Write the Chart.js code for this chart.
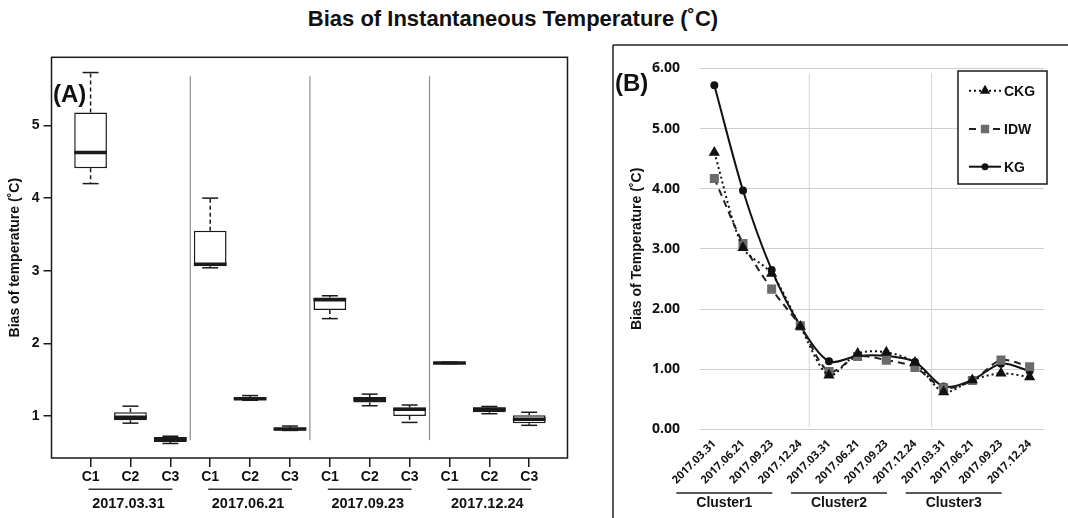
<!DOCTYPE html>
<html lang="en">
  <head>
    <meta charset="utf-8" />
    <title>Bias of Instantaneous Temperature</title>
    <style>
      * {
        margin: 0;
        padding: 0;
      }
      body {
        width: 1068px;
        height: 518px;
        background: #fff;
        position: relative;
        overflow: hidden;
        font-family: "Liberation Sans", Arial, sans-serif;
      }
      .mainTitle {
        position: absolute;
        left: 0;
        top: 6px;
        width: 1026px;
        text-align: center;
        font-weight: bold;
        font-size: 22px;
        color: #111;
      }
      .boxA {
        position: absolute;
        left: 0;
        top: 40px;
        width: 600px;
        height: 478px;
      }
      .boxB {
        position: absolute;
        left: 600px;
        top: 40px;
        width: 468px;
        height: 478px;
      }
    </style>
  </head>
  <body>
    <div class="mainTitle">Bias of Instantaneous Temperature (˚C)</div>
    <div class="boxA"><canvas id="chartA"></canvas></div>
    <div class="boxB"><canvas id="chartB"></canvas></div>

    <script src="https://cdn.jsdelivr.net/npm/chart.js"></script>

    <script>
      // panel (A) : box plots per date and cluster
      const groupDates = ["2017.03.31", "2017.06.21", "2017.09.23", "2017.12.24"];
      const clusterNames = ["C1", "C2", "C3"];
      const boxMin = [4.2, 0.9, 0.62, 3.04, 1.215, 0.8, 2.34, 1.14, 0.91, 1.72, 1.03, 0.87];
      const boxQ1 = [4.41, 0.94, 0.64, 3.06, 1.22, 0.8, 2.46, 1.185, 1.0, 1.72, 1.05, 0.9];
      const boxMedian = [4.63, 0.98, 0.68, 3.09, 1.235, 0.82, 2.6, 1.23, 1.09, 1.73, 1.09, 0.955];
      const boxQ3 = [5.18, 1.05, 0.71, 3.55, 1.25, 0.835, 2.63, 1.26, 1.115, 1.74, 1.12, 1.01];
      const boxMax = [5.73, 1.134, 0.72, 4.0, 1.28, 0.86, 2.655, 1.3, 1.15, 1.74, 1.13, 1.05];
      const yTicksA = [1, 2, 3, 4, 5];
      const separatorsA = [3.5, 6.5, 9.5];

      // panel (B) : mean bias per cluster and date
      const dateLabels = [
        "2017.03.31", "2017.06.21", "2017.09.23", "2017.12.24",
        "2017.03.31", "2017.06.21", "2017.09.23", "2017.12.24",
        "2017.03.31", "2017.06.21", "2017.09.23", "2017.12.24",
      ];
      const clusterLabels = ["Cluster1", "Cluster2", "Cluster3"];
      const ckgValues = [4.6, 3.02, 2.59, 1.71, 0.9, 1.26, 1.28, 1.11, 0.62, 0.82, 0.93, 0.87];
      const idwValues = [4.17, 3.09, 2.33, 1.72, 0.96, 1.21, 1.15, 1.03, 0.69, 0.81, 1.15, 1.04];
      const kgValues = [5.72, 3.97, 2.65, 1.72, 1.13, 1.22, 1.22, 1.12, 0.71, 0.82, 1.09, 0.97];
      const yTicksB = [0, 1, 2, 3, 4, 5, 6];
      const clusterBounds = [3.31, 7.58];

      const FONT = "'Liberation Sans', Arial, sans-serif";

      function strokeLine(ctx, x1, y1, x2, y2) {
        ctx.beginPath();
        ctx.moveTo(x1, y1);
        ctx.lineTo(x2, y2);
        ctx.stroke();
      }

      // whiskers, medians, frame and group labels for (A)
      const boxExtras = {
        id: "boxExtras",
        beforeDatasetsDraw(chart) {
          const { ctx, scales: { x, y } } = chart;
          ctx.save();
          ctx.strokeStyle = "#8f8f8f";
          ctx.lineWidth = 1.2;
          separatorsA.forEach((s) => {
            const px = x.getPixelForValue(s);
            strokeLine(ctx, px, y.getPixelForValue(5.68), px, y.getPixelForValue(0.665));
          });
          ctx.restore();
        },
        afterDatasetsDraw(chart) {
          const { ctx, chartArea, scales: { x, y } } = chart;
          const half = x.getPixelForValue(1.41) - x.getPixelForValue(1);
          const cap = x.getPixelForValue(1.2) - x.getPixelForValue(1);
          ctx.save();
          ctx.strokeStyle = "#1a1a1a";
          boxMedian.forEach((m, i) => {
            const cx = x.getPixelForValue(i + 1);
            ctx.lineWidth = 1.5;
            ctx.setLineDash([4, 3]);
            strokeLine(ctx, cx, y.getPixelForValue(boxQ3[i]), cx, y.getPixelForValue(boxMax[i]));
            strokeLine(ctx, cx, y.getPixelForValue(boxQ1[i]), cx, y.getPixelForValue(boxMin[i]));
            ctx.setLineDash([]);
            const yMax = y.getPixelForValue(boxMax[i]);
            const yMin = y.getPixelForValue(boxMin[i]);
            strokeLine(ctx, cx - cap, yMax, cx + cap, yMax);
            strokeLine(ctx, cx - cap, yMin, cx + cap, yMin);
            ctx.lineWidth = 3.5;
            const ym = y.getPixelForValue(m);
            strokeLine(ctx, cx - half, ym, cx + half, ym);
          });

          // frame round the plot
          ctx.lineWidth = 1.5;
          ctx.strokeRect(chartArea.left, chartArea.top, chartArea.width, chartArea.height);

          // date groups under the C ticks
          ctx.fillStyle = "#111";
          ctx.font = "bold 14.5px " + FONT;
          ctx.textAlign = "center";
          ctx.textBaseline = "middle";
          groupDates.forEach((d, g) => {
            const x1 = x.getPixelForValue(g * 3 + 0.95);
            const x2 = x.getPixelForValue(g * 3 + 3.05);
            ctx.strokeStyle = "#333";
            strokeLine(ctx, x1, 449.3, x2, 449.3);
            ctx.fillText(d, (x1 + x2) / 2 - 2, 463.5);
          });

          ctx.font = "bold 24px " + FONT;
          ctx.textAlign = "left";
          ctx.fillText("(A)", 53, 55);
          ctx.restore();
        },
      };

      const chartA = new Chart(document.getElementById("chartA"), {
        type: "bar",
        data: {
          datasets: [
            {
              data: boxQ1.map((q1, i) => ({ x: i + 1, y: [q1, boxQ3[i]] })),
              backgroundColor: "#ffffff",
              borderColor: "#1a1a1a",
              borderWidth: 1.5,
              borderSkipped: false,
              categoryPercentage: 1,
              barPercentage: 0.82,
            },
          ],
        },
        options: {
          responsive: true,
          maintainAspectRatio: false,
          animation: false,
          layout: { padding: { left: 0, right: 32.5, top: 17.3, bottom: 0 } },
          plugins: { legend: { display: false }, tooltip: { enabled: false } },
          scales: {
            x: {
              type: "linear",
              min: 0.02,
              max: 12.96,
              offset: false,
              afterBuildTicks(axis) {
                axis.ticks = boxMedian.map((m, i) => ({ value: i + 1 }));
              },
              grid: {
                offset: false,
                drawOnChartArea: false,
                drawTicks: true,
                tickLength: 9,
                color: "#1a1a1a",
                lineWidth: 1.5,
              },
              border: { display: false },
              ticks: {
                color: "#111",
                padding: 2,
                autoSkip: false,
                maxRotation: 0,
                font: { family: FONT, weight: "bold", size: 14 },
                callback: (v) => clusterNames[(v - 1) % 3],
              },
              afterFit(axis) {
                axis.height = 60;
              },
            },
            y: {
              min: 0.42,
              max: 5.94,
              afterBuildTicks(axis) {
                axis.ticks = yTicksA.map((v) => ({ value: v }));
              },
              grid: {
                drawOnChartArea: false,
                drawTicks: true,
                tickLength: 8,
                color: "#1a1a1a",
                lineWidth: 1.5,
              },
              border: { display: false },
              ticks: {
                color: "#111",
                padding: 4,
                font: { family: FONT, weight: "bold", size: 14 },
              },
              title: {
                display: true,
                text: "Bias of temperature (˚C)",
                color: "#111",
                font: { family: FONT, weight: "bold", size: 14 },
                padding: { top: 7, bottom: 0 },
              },
              afterFit(axis) {
                axis.width = 51.5;
              },
            },
          },
        },
        plugins: [boxExtras],
      });

      // frame, cluster lines, legend and label for (B)
      const clusterExtras = {
        id: "clusterExtras",
        beforeDatasetsDraw(chart) {
          const { ctx, chartArea, scales: { x } } = chart;
          ctx.save();
          ctx.strokeStyle = "#d4d4d4";
          ctx.lineWidth = 1;
          clusterBounds.forEach((b) => {
            const px = x.getPixelForValue(b);
            strokeLine(ctx, px, chartArea.top + 5, px, chartArea.bottom - 2);
          });
          ctx.restore();
        },
        afterDatasetsDraw(chart) {
          const { ctx, scales: { x } } = chart;
          ctx.save();
          ctx.fillStyle = "#111";
          ctx.strokeStyle = "#222";
          ctx.lineWidth = 1.5;

          // panel frame
          strokeLine(ctx, 13, 5, 468, 5);
          strokeLine(ctx, 13, 5, 13, 478);

          // cluster groups
          ctx.font = "bold 14px " + FONT;
          ctx.textAlign = "center";
          ctx.textBaseline = "middle";
          clusterLabels.forEach((c, g) => {
            const x1 = x.getPixelForValue(g * 4);
            const x2 = x.getPixelForValue(g * 4 + 3);
            strokeLine(ctx, x1 - 38, 453, x2 - 28, 453);
            ctx.fillText(c, (x1 + x2) / 2 - 33, 463.5);
          });

          // legend box
          ctx.fillStyle = "#fff";
          ctx.fillRect(358, 31, 89, 113);
          ctx.strokeStyle = "#1a1a1a";
          ctx.strokeRect(358, 31, 89, 113);
          const rows = [50.7, 89, 126.7];
          ctx.font = "bold 14px " + FONT;
          ctx.textAlign = "left";
          chart.data.datasets.forEach((ds, i) => {
            const ly = rows[i];
            ctx.strokeStyle = ds.borderColor;
            ctx.lineWidth = ds.borderWidth;
            ctx.setLineDash(ds.borderDash || []);
            strokeLine(ctx, 369, ly, 401, ly);
            ctx.setLineDash([]);
            ctx.fillStyle = ds.pointBackgroundColor;
            ctx.strokeStyle = ds.pointBorderColor;
            Chart.helpers.drawPoint(
              ctx,
              { pointStyle: ds.pointStyle, radius: ds.pointRadius - 0.5, rotation: 0, borderWidth: 1 },
              385,
              ly
            );
            ctx.fillStyle = "#111";
            ctx.fillText(ds.label, 404, ly + 1);
          });

          ctx.font = "bold 24px " + FONT;
          ctx.fillStyle = "#111";
          ctx.fillText("(B)", 15, 44);
          ctx.restore();
        },
      };

      const chartB = new Chart(document.getElementById("chartB"), {
        type: "line",
        data: {
          labels: dateLabels,
          datasets: [
            {
              label: "CKG",
              data: ckgValues,
              borderColor: "#111",
              borderWidth: 2,
              borderDash: [2, 3],
              pointStyle: "triangle",
              pointRadius: 4.5,
              pointBackgroundColor: "#111",
              pointBorderColor: "#111",
              tension: 0.3,
            },
            {
              label: "IDW",
              data: idwValues,
              borderColor: "#222",
              borderWidth: 2,
              borderDash: [7, 5],
              pointStyle: "rect",
              pointRadius: 5,
              pointBackgroundColor: "#6b6b6b",
              pointBorderColor: "#6b6b6b",
              tension: 0.3,
            },
            {
              label: "KG",
              data: kgValues,
              borderColor: "#111",
              borderWidth: 2,
              pointStyle: "circle",
              pointRadius: 3,
              pointBackgroundColor: "#111",
              pointBorderColor: "#111",
              tension: 0.3,
            },
          ],
        },
        options: {
          responsive: true,
          maintainAspectRatio: false,
          animation: false,
          layout: { padding: { left: 25, right: 24, top: 28.3, bottom: 0 } },
          plugins: { legend: { display: false }, tooltip: { enabled: false } },
          scales: {
            x: {
              offset: true,
              grid: { display: false },
              border: { display: false },
              ticks: {
                color: "#111",
                autoSkip: false,
                maxRotation: 45,
                minRotation: 45,
                padding: 0,
                font: { family: "'Open Sans', sans-serif", weight: "bold", size: 11 },
              },
              afterFit(axis) {
                axis.height = 88.7;
              },
            },
            y: {
              min: 0,
              max: 6,
              afterBuildTicks(axis) {
                axis.ticks = yTicksB.map((v) => ({ value: v }));
              },
              grid: { color: "#cfcfcf", drawTicks: false },
              border: { display: false },
              ticks: {
                color: "#111",
                padding: 20,
                font: { family: "'Open Sans', sans-serif", weight: "bold", size: 14 },
                callback: (v) => v.toFixed(2),
              },
              title: {
                display: true,
                text: "Bias of Temperature (˚C)",
                color: "#111",
                font: { family: FONT, weight: "bold", size: 14 },
                padding: { top: 4, bottom: 0 },
              },
              afterFit(axis) {
                axis.width = 75;
              },
            },
          },
        },
        plugins: [clusterExtras],
      });
    </script>
  </body>
</html>
